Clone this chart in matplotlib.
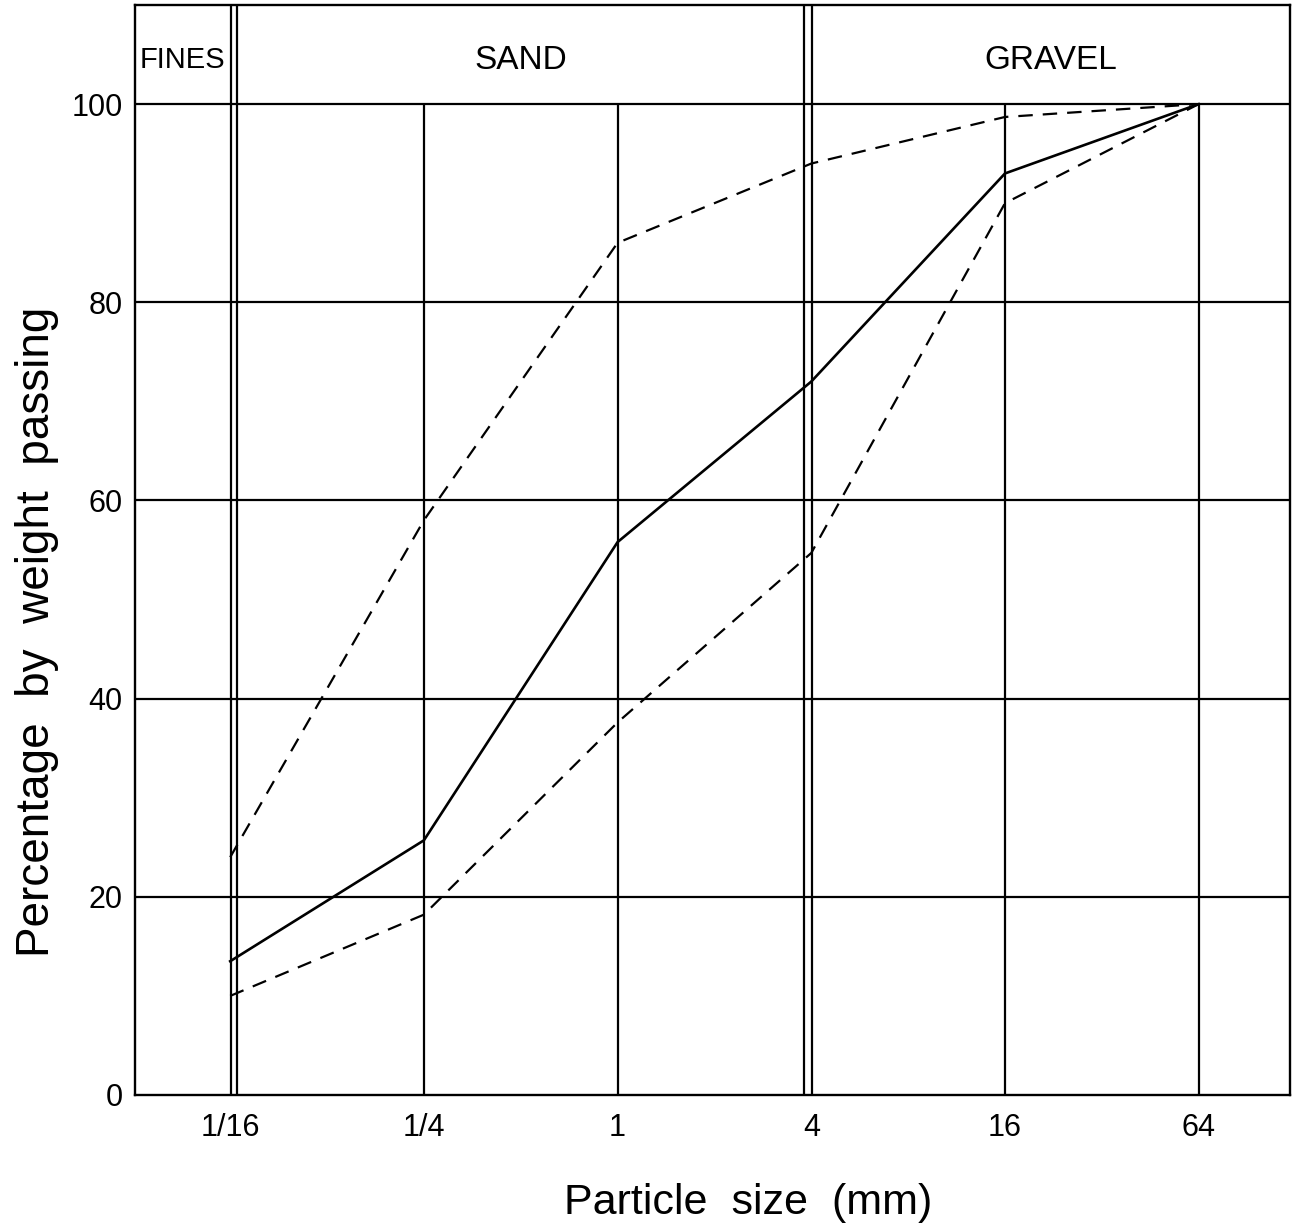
import matplotlib
matplotlib.use("Agg")
import matplotlib.pyplot as plt

plt.rcParams['font.family'] = ['Liberation Sans', 'DejaVu Sans']

# Data
sizes = [1/16, 1/4, 1, 4, 16, 64]
size_labels = ['1/16', '1/4', '1', '4', '16', '64']
median = [13.5, 25.7, 55.8, 72.0, 93.0, 100.0]
upper = [24.0, 58.0, 86.0, 94.0, 98.7, 100.0]
lower = [10.0, 18.2, 37.6, 54.7, 90.0, 100.0]
yticks = [0, 20, 40, 60, 80, 100]
class_names = ['FINES', 'SAND', 'GRAVEL']
inner_lines = [1/4, 1, 16, 64]

fig = plt.figure(figsize=(13.02, 12.27), dpi=100)
ax = fig.add_axes([135/1302, 132/1227, 1155/1302, 1090/1227])
ax.set_xscale('log', base=2)
ax.set_xlim(2**-4.983, 2**6.943)
ax.set_ylim(0, 110)

lw_grid = 1.6
# horizontal grid lines
for y in [20, 40, 60, 80, 100]:
    ax.axhline(y, color='black', lw=lw_grid, zorder=1)
# inner vertical lines up to 100
ax.vlines(inner_lines, 0, 100, color='black', lw=lw_grid, zorder=1)
# double lines at class boundaries
fine_l, fine_r = 1/16 * 2**0.005, 1/16 * 2**0.072
sand_l, sand_r = 4 * 2**-0.072, 4 * 2**0.010
for xv in [fine_l, fine_r, sand_l, sand_r]:
    ax.axvline(xv, color='black', lw=lw_grid, zorder=1)

# curves
ax.plot(sizes, median, color='black', lw=1.9, zorder=3)
ax.plot(sizes, upper, color='black', lw=1.6, dashes=(6.5, 4.5), zorder=3)
ax.plot(sizes, lower, color='black', lw=1.6, dashes=(6.5, 4.5), zorder=3)

# class labels
xmin, xmax = ax.get_xlim()
fines_x = (xmin * fine_l) ** 0.5
sand_x = (fine_r * sand_l) ** 0.5
gravel_x = (sand_r * xmax) ** 0.5
for name, xpos, fs in zip(class_names, [fines_x, sand_x, gravel_x], [21, 24, 24]):
    ax.text(xpos, 104.4, name, ha='center', va='center', fontsize=fs)

ax.set_xticks(sizes)
ax.set_xticklabels(size_labels)
ax.minorticks_off()
ax.set_yticks(yticks)
ax.tick_params(axis='both', length=0, labelsize=22)
ax.tick_params(axis='x', pad=13)
ax.tick_params(axis='y', pad=9)

for s in ax.spines.values():
    s.set_linewidth(1.7)

ax.set_xlabel('Particle  size  (mm)', fontsize=31)
ax.xaxis.set_label_coords((748 - 135) / 1155, -0.081)
ax.set_ylabel('Percentage  by  weight  passing', fontsize=33)
ax.yaxis.set_label_coords(-0.066, (1095 - 632) / 1090)

fig.savefig('out.png', dpi=100)
